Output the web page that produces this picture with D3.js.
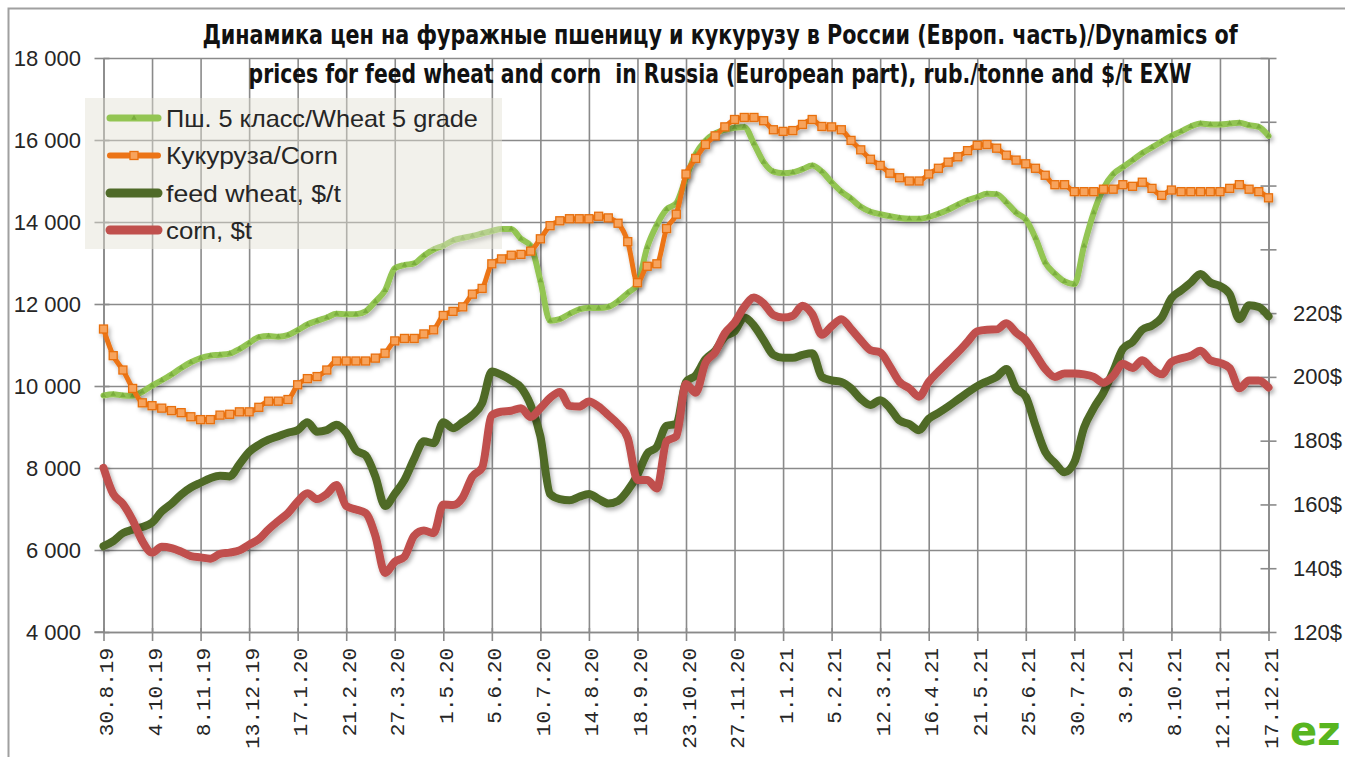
<!DOCTYPE html>
<html>
<head>
<meta charset="utf-8">
<script src="https://cdn.jsdelivr.net/npm/d3@7"></script>
<style>
  html, body { margin: 0; padding: 0; background: #fff; }
  svg { display: block; }
</style>
</head>
<body>
<svg id="chart"></svg>
<script>
// weekly prices, 30.8.19 .. 17.12.21
const tickLabels = ["30.8.19", "4.10.19", "8.11.19", "13.12.19", "17.1.20", "21.2.20", "27.3.20",
    "1.5.20", "5.6.20", "10.7.20", "14.8.20", "18.9.20", "23.10.20", "27.11.20", "1.1.21", "5.2.21",
    "12.3.21", "16.4.21", "21.5.21", "25.6.21", "30.7.21", "3.9.21", "8.10.21", "12.11.21", "17.12.21"];

const wheatRub = [
    9770, 9800, 9770, 9760, 9860, 10010, 10140, 10280, 10440, 10580,
    10680, 10740, 10760, 10790, 10900, 11050, 11190, 11220, 11200, 11240,
    11360, 11500, 11590, 11670, 11760, 11750, 11750, 11820, 12060, 12330,
    12870, 12950, 12990, 13180, 13330, 13420, 13550, 13610, 13660, 13720,
    13780, 13830, 13830, 13590, 13420, 12570, 11590, 11630, 11760, 11870,
    11910, 11900, 11930, 12070, 12270, 12480, 13380, 13930, 14310, 14460,
    15080, 15660, 15980, 16160, 16250, 16300, 16320, 15910, 15460, 15230,
    15190, 15210, 15290, 15380, 15230, 14970, 14740, 14570, 14370, 14250,
    14190, 14140, 14100, 14080, 14080, 14120, 14200, 14300, 14420, 14530,
    14610, 14690, 14680, 14480, 14230, 14060, 13610, 13010, 12740, 12550,
    12480, 13420, 14230, 14820, 15170, 15340, 15510, 15680, 15820, 15960,
    16100, 16210, 16330, 16400, 16380, 16380, 16400, 16420, 16360, 16320,
    16100];

const cornRub = [
    11390, 10740, 10390, 9940, 9590, 9520, 9460, 9400, 9350, 9250,
    9180, 9180, 9290, 9310, 9370, 9370, 9480, 9630, 9630, 9670,
    10030, 10180, 10230, 10390, 10610, 10610, 10610, 10610, 10680, 10800,
    11100, 11160, 11160, 11270, 11370, 11720, 11820, 11930, 12240, 12380,
    12980, 13100, 13190, 13210, 13290, 13590, 13910, 14030, 14080, 14080,
    14080, 14140, 14100, 13970, 13520, 12520, 12920, 12980, 13840, 14190,
    15170, 15550, 15890, 16100, 16320, 16500, 16550, 16550, 16470, 16250,
    16210, 16230, 16380, 16500, 16330, 16320, 16250, 15990, 15760, 15530,
    15380, 15190, 15080, 15000, 15000, 15170, 15310, 15460, 15590, 15740,
    15870, 15890, 15800, 15630, 15510, 15420, 15310, 15140, 14910, 14910,
    14740, 14740, 14740, 14800, 14800, 14910, 14870, 14970, 14820, 14650,
    14780, 14740, 14740, 14740, 14740, 14740, 14820, 14910, 14800, 14740,
    14590];

const wheatUsd = [
    146.9, 148.5, 151.0, 152.1, 152.9, 154.3, 157.8, 160.2, 163.1, 165.3,
    166.8, 168.2, 169.0, 168.8, 172.6, 176.5, 178.7, 180.3, 181.4, 182.5,
    183.3, 185.8, 182.8, 183.3, 185.0, 182.5, 177.0, 175.4, 168.8, 159.5,
    163.3, 167.7, 174.3, 179.8, 179.2, 185.8, 183.9, 185.8, 188.0, 191.8,
    201.7, 200.6, 198.9, 196.7, 191.2, 181.4, 163.3, 161.7, 161.3, 162.4,
    163.3, 161.7, 160.3, 161.1, 164.4, 169.3, 175.9, 178.1, 184.7, 185.2,
    198.4, 200.5, 205.5, 208.2, 212.6, 214.3, 218.6, 216.1, 211.5, 206.9,
    206.0, 206.0, 206.9, 207.4, 200.0, 198.9, 198.4, 196.4, 193.1, 191.2,
    192.7, 190.2, 186.3, 185.2, 183.3, 186.9, 188.7, 190.7, 192.9, 195.1,
    197.1, 198.6, 200.0, 202.5, 196.4, 193.8, 184.7, 176.5, 173.0, 170.1,
    173.2, 184.1, 190.2, 195.1, 201.7, 208.8, 211.0, 214.8, 216.1, 218.6,
    224.7, 227.1, 229.6, 232.3, 229.6, 228.5, 226.0, 218.1, 222.5, 221.9,
    219.0];

const cornUsd = [
    171.5, 163.3, 160.2, 155.1, 148.5, 144.9, 146.7, 146.3, 145.2, 143.8,
    143.4, 143.0, 144.5, 144.9, 145.6, 147.4, 149.1, 152.2, 154.8, 157.3,
    160.9, 163.5, 161.7, 163.3, 166.1, 159.5, 158.4, 157.3, 150.2, 138.5,
    142.0, 143.6, 150.2, 151.8, 151.0, 160.0, 159.8, 162.2, 168.8, 171.5,
    188.0, 189.1, 189.4, 190.2, 187.4, 190.2, 193.4, 195.3, 190.9, 190.7,
    192.3, 190.7, 188.0, 185.2, 180.8, 167.7, 167.7, 165.0, 179.8, 181.4,
    197.8, 195.0, 204.4, 207.7, 213.7, 217.0, 221.9, 224.9, 223.0, 219.4,
    218.6, 219.2, 222.3, 219.7, 213.2, 215.9, 218.1, 215.0, 211.5, 208.4,
    207.7, 203.3, 198.4, 196.4, 193.8, 198.4, 201.7, 204.7, 207.7, 211.0,
    214.3, 214.8, 214.9, 216.8, 213.9, 211.5, 207.1, 202.5, 200.0, 201.1,
    201.1, 200.8, 200.0, 198.2, 200.3, 204.1, 202.8, 205.2, 202.5, 200.8,
    204.7, 205.8, 206.6, 208.2, 205.2, 204.4, 202.8, 196.4, 198.9, 198.9,
    196.7];

const seriesNames = ["Пш. 5 класс/Wheat 5 grade", "Кукуруза/Corn", "feed wheat, $/t", "corn, $t"];

const width = 1345;
const height = 757;
const margin = { top: 58, right: 76.5, bottom: 125, left: 103.5 };
const plotW = width - margin.left - margin.right;
const axisColor = "#8a8a8a";
const labelFont = "'Liberation Sans', Arial, sans-serif";

const svg = d3.select("#chart").attr("width", width).attr("height", height);

// squeeze a text horizontally to a given width, anchored at (cx, cy)
function fitText(sel, cx, cy, targetW, anchor) {
    sel.each(function () {
        const w = this.getComputedTextLength();
        const sx = w > 0 ? targetW / w : 1;
        d3.select(this)
            .attr("x", 0).attr("y", 0)
            .attr("text-anchor", anchor)
            .attr("transform", `translate(${cx},${cy}) scale(${sx},1)`);
    });
}

const defs = svg.append("defs");
defs.append("filter")
    .attr("id", "shadow")
    .attr("x", "-5%").attr("y", "-10%")
    .attr("width", "115%").attr("height", "130%")
    .append("feDropShadow")
    .attr("dx", 2).attr("dy", 3)
    .attr("stdDeviation", 2)
    .attr("flood-color", "#000")
    .attr("flood-opacity", 0.3);

// outer chart border
svg.append("rect")
    .attr("x", 8.5).attr("y", 8.5)
    .attr("width", 1400).attr("height", 800)
    .attr("fill", "none")
    .attr("stroke", "#a0a0a0")
    .attr("stroke-width", 2);

const x = d3.scaleLinear()
    .domain([0, wheatRub.length - 1])
    .range([margin.left, width - margin.right]);

const yLeft = d3.scaleLinear()
    .domain([4000, 18000])
    .range([height - margin.bottom, margin.top]);

const yRight = d3.scaleLinear()
    .domain([120, 300])
    .range([height - margin.bottom, margin.top]);

const xTicks = d3.range(0, wheatRub.length, 5);
const baseY = height - margin.bottom;

// gridlines
svg.append("g")
    .attr("transform", `translate(${margin.left},0)`)
    .call(d3.axisLeft(yLeft).tickValues(d3.range(4000, 18001, 2000)).tickSize(-plotW).tickFormat(""))
    .call((g) => g.select(".domain").remove())
    .selectAll("line")
    .attr("stroke", axisColor)
    .attr("stroke-width", 1.6);

svg.append("g")
    .attr("transform", `translate(0,${baseY})`)
    .call(d3.axisBottom(x).tickValues(xTicks).tickSize(-(baseY - margin.top)).tickFormat(""))
    .call((g) => g.select(".domain").remove())
    .selectAll("line")
    .attr("stroke", axisColor)
    .attr("stroke-width", 1.6);

// left axis
const axL = svg.append("g")
    .attr("transform", `translate(${margin.left},0)`)
    .call(d3.axisLeft(yLeft)
        .tickValues(d3.range(4000, 18001, 2000))
        .tickSize(9).tickSizeOuter(0).tickPadding(13.5)
        .tickFormat((d) => d3.format(",")(d).replace(/,/g, " ")));
axL.select(".domain").attr("stroke", axisColor).attr("stroke-width", 1.6);
axL.selectAll(".tick line").attr("x1", 6).attr("stroke", axisColor).attr("stroke-width", 1.6);
axL.selectAll("text")
    .attr("font-family", labelFont)
    .attr("font-size", 22)
    .attr("fill", "#262626");

// right axis ($)
const axR = svg.append("g")
    .attr("transform", `translate(${width - margin.right},0)`)
    .call(d3.axisRight(yRight)
        .tickValues(d3.range(120, 301, 20))
        .tickSize(8).tickSizeOuter(0).tickPadding(16.5)
        .tickFormat((d) => (d <= 220 ? d + "$" : "")));
axR.select(".domain").attr("stroke", axisColor).attr("stroke-width", 1.6);
axR.selectAll(".tick line").attr("x1", -8).attr("stroke", axisColor).attr("stroke-width", 1.6);
axR.selectAll("text")
    .attr("font-family", labelFont)
    .attr("font-size", 22)
    .attr("fill", "#262626");

// bottom axis
const axB = svg.append("g")
    .attr("transform", `translate(0,${baseY})`)
    .call(d3.axisBottom(x).tickValues(xTicks).tickSize(9).tickSizeOuter(0).tickFormat(""));
axB.select(".domain").attr("stroke", axisColor).attr("stroke-width", 1.6);
axB.selectAll(".tick line").attr("y1", -4).attr("stroke", axisColor).attr("stroke-width", 1.6);
svg.append("line")
    .attr("x1", margin.left - 9).attr("x2", margin.left)
    .attr("y1", baseY).attr("y2", baseY)
    .attr("stroke", axisColor).attr("stroke-width", 1.6);

svg.append("g")
    .selectAll("text")
    .data(tickLabels)
    .join("text")
    .attr("transform", (d, k) => `translate(${x(xTicks[k]) + 9.5},${baseY + 16}) rotate(-90)`)
    .attr("text-anchor", "end")
    .attr("font-family", "'Liberation Mono', 'DejaVu Sans Mono', monospace")
    .attr("font-size", 21)
    .attr("fill", "#262626")
    .text((d) => d);

// series
const series = [
    { name: seriesNames[0], values: wheatRub, y: yLeft, color: "#93c553", width: 6, marker: "tri" },
    { name: seriesNames[1], values: cornRub, y: yLeft, color: "#ec7417", width: 5, marker: "square" },
    { name: seriesNames[2], values: wheatUsd, y: yRight, color: "#4f6a28", width: 8 },
    { name: seriesNames[3], values: cornUsd, y: yRight, color: "#c0504d", width: 8 },
];

const lines = svg.append("g").attr("class", "lines");

series.forEach((s) => {
    const g = lines.append("g").attr("filter", "url(#shadow)");
    const line = d3.line()
        .x((d, i) => x(i))
        .y((d) => s.y(d))
        .curve(d3.curveMonotoneX);

    g.append("path")
        .datum(s.values)
        .attr("d", line)
        .attr("fill", "none")
        .attr("stroke", s.color)
        .attr("stroke-width", s.width)
        .attr("stroke-linejoin", "round")
        .attr("stroke-linecap", "round");

    if (s.marker === "square") {
        g.selectAll(".mk")
            .data(s.values)
            .join("rect")
            .attr("x", (d, i) => x(i) - 4)
            .attr("y", (d) => s.y(d) - 4)
            .attr("width", 8)
            .attr("height", 8)
            .attr("fill", "#f7a35c")
            .attr("stroke", "#e8700f")
            .attr("stroke-width", 1.3);
    } else if (s.marker === "tri") {
        g.selectAll(".mk")
            .data(s.values)
            .join("path")
            .attr("transform", (d, i) => `translate(${x(i)},${s.y(d)})`)
            .attr("d", d3.symbol(d3.symbolTriangle, 14))
            .attr("fill", "#7aad3e");
    }
});

// legend
const legend = svg.append("g").attr("class", "legend");
legend.append("rect")
    .attr("x", 85).attr("y", 98)
    .attr("width", 417).attr("height", 151)
    .attr("fill", "#e2dfd3")
    .attr("fill-opacity", 0.45);

const legendY = [118, 155.5, 193, 230];
const legendLen = [312, 172, 175, 86];

series.forEach((s, k) => {
    const row = legend.append("g").attr("transform", `translate(0,${legendY[k]})`);
    row.append("line")
        .attr("x1", 110).attr("x2", 158)
        .attr("stroke", s.color)
        .attr("stroke-width", s.width + 1)
        .attr("stroke-linecap", "round");
    if (s.marker === "square") {
        row.append("rect")
            .attr("x", 130).attr("y", -4)
            .attr("width", 8).attr("height", 8)
            .attr("fill", "#f7a35c")
            .attr("stroke", "#e8700f")
            .attr("stroke-width", 1.3);
    } else if (s.marker === "tri") {
        row.append("path")
            .attr("transform", "translate(134,0)")
            .attr("d", d3.symbol(d3.symbolTriangle, 14))
            .attr("fill", "#7aad3e");
    }
    row.append("text")
        .attr("dy", "0.36em")
        .attr("font-family", labelFont)
        .attr("font-size", 24)
        .attr("fill", "#262626")
        .text(s.name)
        .call(fitText, 166, 0, legendLen[k], "start");
});

// title
const titleLines = [
    { text: "Динамика цен на фуражные пшеницу и кукурузу в России (Европ. часть)/Dynamics of", y: 44, len: 1036 },
    { text: "prices for feed wheat and corn  in Russia (European part), rub./tonne and $/t EXW", y: 83, len: 943 },
];
const titleG = svg.append("g");
titleLines.forEach((t) => {
    titleG.append("text")
        .attr("font-family", "'Liberation Sans Narrow', 'DejaVu Sans Condensed', 'Arial Narrow', sans-serif")
        .attr("font-weight", "bold")
        .attr("font-size", 26)
        .attr("fill", "#111")
        .attr("xml:space", "preserve")
        .text(t.text)
        .call(fitText, 720, t.y, t.len, "middle");
});

// logo in the corner
svg.append("text")
    .attr("x", 1290)
    .attr("y", 745)
    .attr("font-family", "'DejaVu Sans', sans-serif")
    .attr("font-weight", "bold")
    .attr("font-size", 40)
    .attr("fill", "#58b51f")
    .text("ez");
</script>
</body>
</html>
